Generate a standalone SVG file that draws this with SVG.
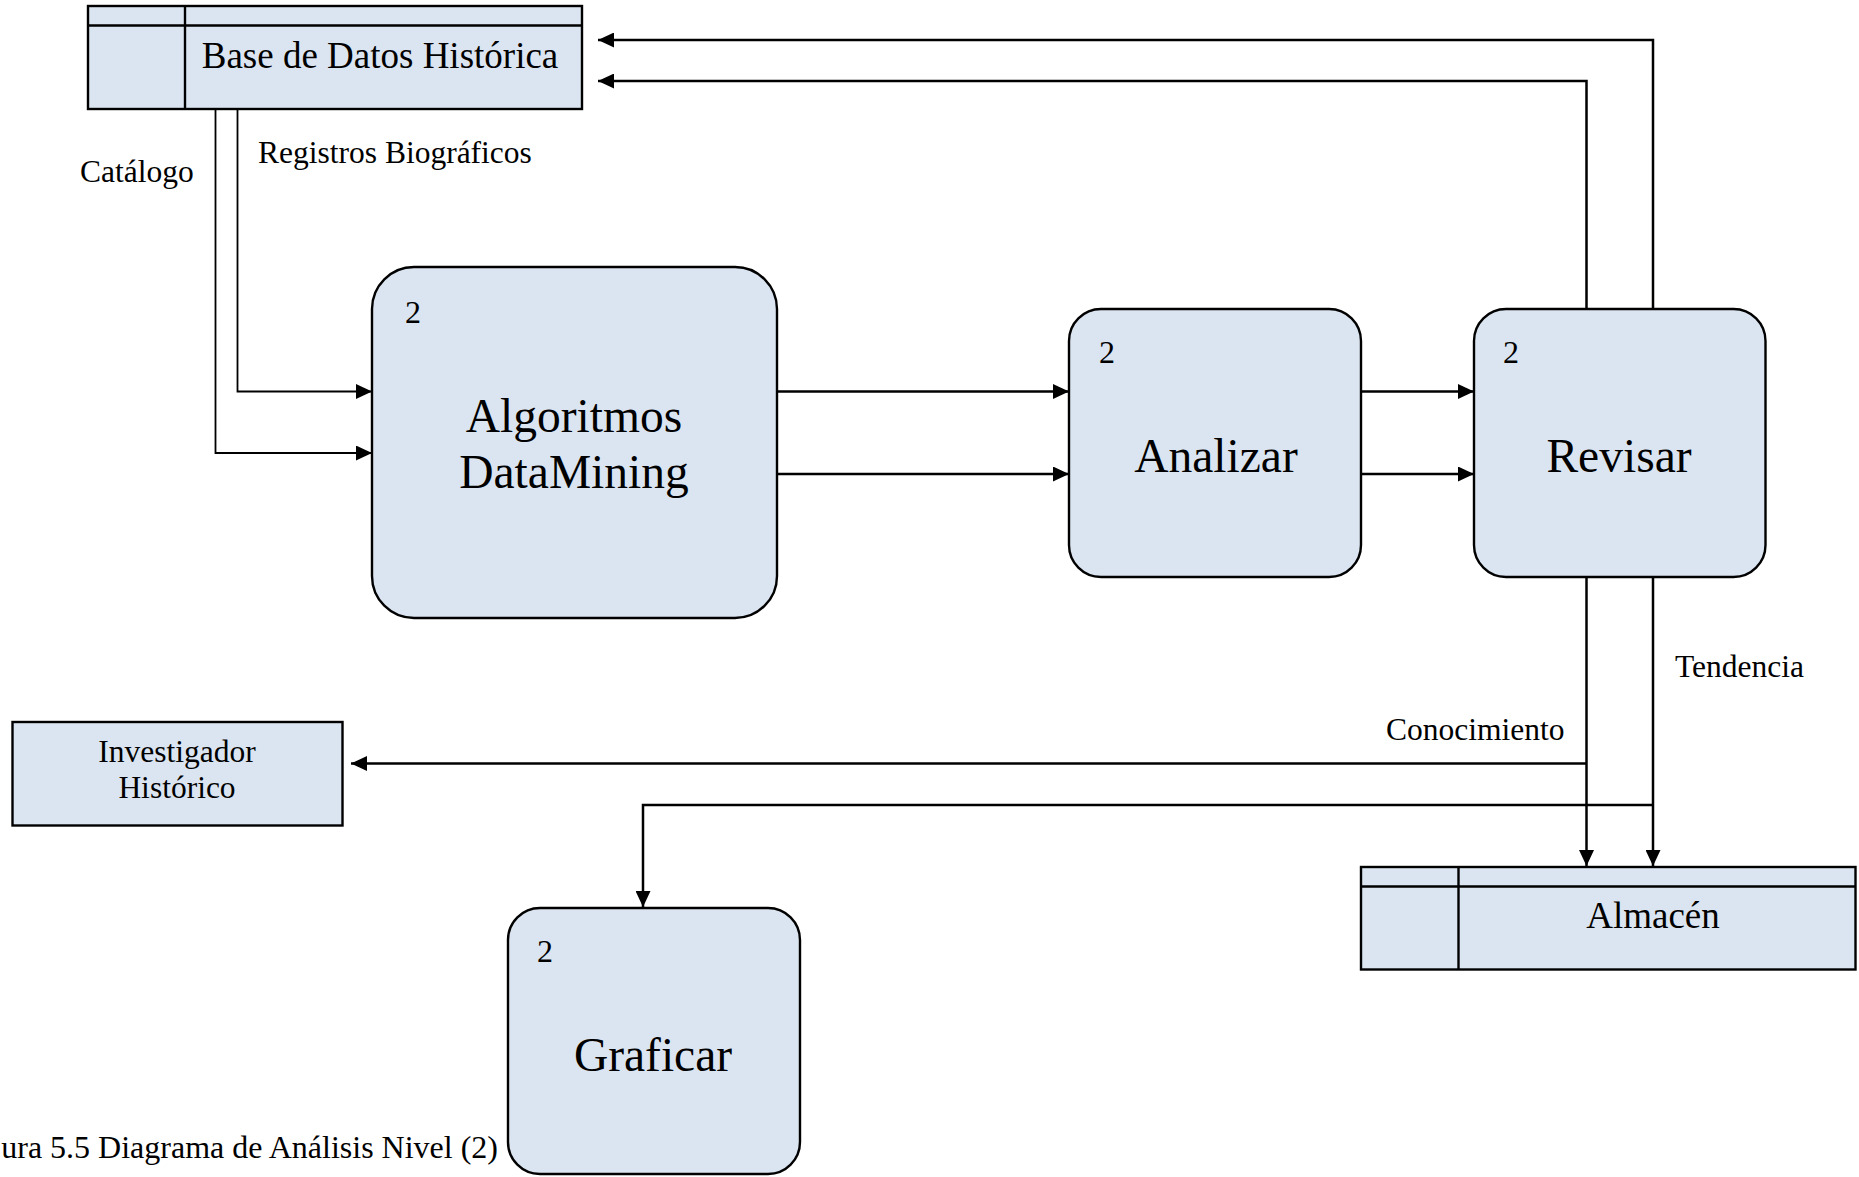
<svg xmlns="http://www.w3.org/2000/svg" width="1859" height="1177" viewBox="0 0 1859 1177">
  <style>
    .box { fill: #dbe5f1; stroke: #000; stroke-width: 2.4; }
    .rule { fill: none; stroke: #000; stroke-width: 2.4; }
    .flow { fill: none; stroke: #000; stroke-width: 2.5; }
    .thin { stroke-width: 1.8; }
    text { font-family: "Liberation Serif", "Times New Roman", serif; fill: #000; }
    .big { font-size: 47.5px; text-anchor: middle; }
    .store { font-size: 37px; text-anchor: middle; }
    .num { font-size: 32px; }
    .lbl { font-size: 31.5px; }
    .ent { font-size: 31.5px; text-anchor: middle; }
    .cap { font-size: 32px; text-anchor: end; }
  </style>
  <defs>
    <marker id="arrow" markerUnits="userSpaceOnUse" markerWidth="17" markerHeight="15" refX="16" refY="7.5" orient="auto">
      <path d="M0,0 L16,7.5 L0,15 Z" fill="#000"/>
    </marker>
  </defs>

  <!-- Data store: Base de Datos Histórica -->
  <g id="base-datos">
    <rect class="box" x="88" y="6" width="494" height="103"/>
    <line class="rule" x1="88" y1="25.5" x2="582" y2="25.5"/>
    <line class="rule" x1="185" y1="6" x2="185" y2="109"/>
    <text class="store" x="380" y="68">Base de Datos Histórica</text>
  </g>

  <!-- Process: Algoritmos DataMining -->
  <g id="algoritmos">
    <rect class="box" x="372" y="267" width="405" height="351" rx="42" ry="42"/>
    <text class="num" x="405" y="323">2</text>
    <text class="big" x="574" y="432">Algoritmos</text>
    <text class="big" x="574" y="488">DataMining</text>
  </g>

  <!-- Process: Analizar -->
  <g id="analizar">
    <rect class="box" x="1069" y="309" width="292" height="268" rx="32" ry="32"/>
    <text class="num" x="1099" y="363">2</text>
    <text class="big" x="1216" y="472">Analizar</text>
  </g>

  <!-- Process: Revisar -->
  <g id="revisar">
    <rect class="box" x="1474" y="309" width="291.5" height="268" rx="32" ry="32"/>
    <text class="num" x="1503" y="363">2</text>
    <text class="big" x="1619" y="472">Revisar</text>
  </g>

  <!-- External entity: Investigador Histórico -->
  <g id="investigador">
    <rect class="box" x="12.5" y="722" width="330" height="103.5"/>
    <text class="ent" x="177" y="762">Investigador</text>
    <text class="ent" x="177" y="798">Histórico</text>
  </g>

  <!-- Process: Graficar -->
  <g id="graficar">
    <rect class="box" x="508" y="908" width="292" height="266" rx="32" ry="32"/>
    <text class="num" x="537" y="962">2</text>
    <text class="big" x="653" y="1071">Graficar</text>
  </g>

  <!-- Data store: Almacén -->
  <g id="almacen">
    <rect class="box" x="1361" y="867" width="494.5" height="102.5"/>
    <line class="rule" x1="1361" y1="886.5" x2="1855.5" y2="886.5"/>
    <line class="rule" x1="1458.5" y1="867" x2="1458.5" y2="969.5"/>
    <text class="store" x="1653" y="928">Almacén</text>
  </g>

  <!-- Data flows -->
  <g id="connectors">
    <path class="flow thin" d="M215.5,109 V453 H372" marker-end="url(#arrow)"/>
    <path class="flow thin" d="M237.5,109 V391.5 H372" marker-end="url(#arrow)"/>
    <path class="flow" d="M777,391.5 H1069" marker-end="url(#arrow)"/>
    <path class="flow" d="M777,474 H1069" marker-end="url(#arrow)"/>
    <path class="flow" d="M1361,391.5 H1474" marker-end="url(#arrow)"/>
    <path class="flow" d="M1361,474 H1474" marker-end="url(#arrow)"/>
    <path class="flow" d="M1653,309 V40 H598" marker-end="url(#arrow)"/>
    <path class="flow" d="M1586.5,309 V81 H598" marker-end="url(#arrow)"/>
    <path class="flow" d="M1586.5,577 V866" marker-end="url(#arrow)"/>
    <path class="flow" d="M1653,577 V866" marker-end="url(#arrow)"/>
    <path class="flow" d="M1586.5,763.5 H351" marker-end="url(#arrow)"/>
    <path class="flow" d="M1653,805 H643 V907" marker-end="url(#arrow)"/>
  </g>

  <!-- Flow labels -->
  <g id="labels">
    <text class="lbl" x="80" y="182">Catálogo</text>
    <text class="lbl" x="258" y="163">Registros Biográficos</text>
    <text class="lbl" x="1675" y="677">Tendencia</text>
    <text class="lbl" x="1386" y="740">Conocimiento</text>
  </g>

  <!-- Caption -->
  <text class="cap" x="498" y="1158">ura 5.5 Diagrama de Análisis Nivel (2)</text>
</svg>
